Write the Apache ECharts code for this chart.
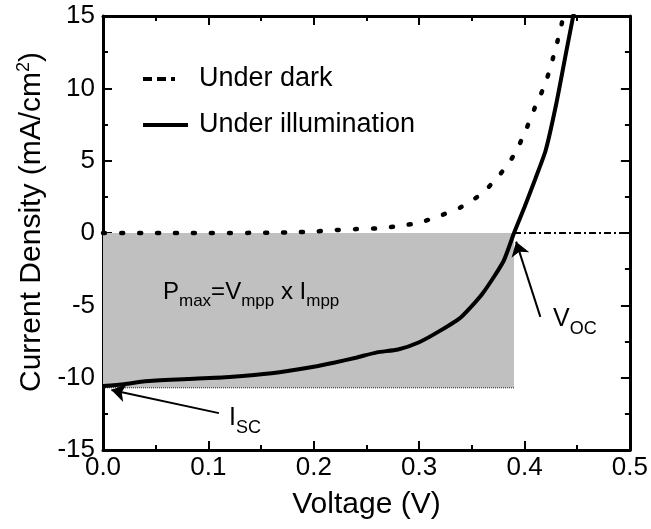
<!DOCTYPE html>
<html>
<head>
<meta charset="utf-8">
<script src="https://cdn.jsdelivr.net/npm/echarts@6/dist/echarts.min.js"></script>
<style>
  html, body { margin: 0; padding: 0; background: #fff; }
  #chart { width: 651px; height: 529px; }
</style>
</head>
<body>
<div id="chart"></div>
<script>
// J–V characteristics of the cell: voltage (V) vs current density (mA/cm²)
const darkVoltage = [0, 0.02, 0.04, 0.06, 0.08, 0.10, 0.12, 0.14, 0.16, 0.18, 0.20, 0.22, 0.24, 0.26, 0.28, 0.30, 0.32, 0.34, 0.36, 0.37, 0.38, 0.39, 0.40, 0.41, 0.42, 0.43, 0.437];
const darkCurrent = [0, 0, 0, 0, 0, 0, 0, 0.01, 0.02, 0.05, 0.10, 0.20, 0.27, 0.32, 0.48, 0.72, 1.20, 1.80, 2.76, 3.50, 4.35, 5.40, 6.90, 8.70, 10.40, 12.90, 15.0];

const lightVoltage = [0, 0.02, 0.04, 0.08, 0.12, 0.16, 0.20, 0.22, 0.24, 0.26, 0.28, 0.30, 0.32, 0.34, 0.36, 0.38, 0.39, 0.40, 0.41, 0.42, 0.43, 0.44, 0.447];
const lightCurrent = [-10.57, -10.45, -10.25, -10.10, -9.95, -9.70, -9.25, -8.95, -8.62, -8.25, -8.05, -7.55, -6.75, -5.80, -4.20, -1.95, 0, 1.8, 3.7, 5.7, 8.9, 12.7, 15.3];

// Key operating points
const vOc = 0.39;        // open-circuit voltage
const jSc = -10.7;       // bottom of the shaded power rectangle
const vEnd = 0.5;

const xTicks = [0.0, 0.1, 0.2, 0.3, 0.4, 0.5];
const yTicks = [-15, -10, -5, 0, 5, 10, 15];

const legendNames = ['Under dark', 'Under illumination'];

const zip = (a, b) => a.map((v, i) => [v, b[i]]);

const FONT = "'Liberation Sans', Arial, Helvetica, sans-serif";

const chart = echarts.init(document.getElementById('chart'), null, { renderer: 'canvas' });

const axisCommon = {
  axisLine: { show: true, onZero: false, lineStyle: { color: '#000', width: 3 } },
  axisTick: { show: true, inside: true, length: 9, lineStyle: { color: '#000', width: 2 } },
  minorTick: { show: true, splitNumber: 2, length: 5, lineStyle: { color: '#000', width: 2 } },
  splitLine: { show: false }
};

function subText(main, sub, size, subSize) {
  return {
    text: '{m|' + main + '}{s|' + sub + '}',
    fill: '#000',
    rich: {
      m: { fontSize: size, fontFamily: FONT, fill: '#000', lineHeight: 30, verticalAlign: 'bottom' },
      s: { fontSize: subSize, fontFamily: FONT, fill: '#000', lineHeight: 30, verticalAlign: 'bottom', padding: [0, 0, -6, 0] }
    }
  };
}

const option = {
  animation: false,
  backgroundColor: '#fff',
  textStyle: { fontFamily: FONT },
  grid: { left: 103, right: 18, top: 16, bottom: 79 },
  xAxis: [
    Object.assign({}, axisCommon, {
      type: 'value', min: xTicks[0], max: xTicks[xTicks.length - 1], interval: 0.1,
      position: 'bottom',
      axisLabel: { fontSize: 26, color: '#000', margin: 5, formatter: v => v.toFixed(1), fontFamily: FONT },
      name: 'Voltage (V)', nameLocation: 'middle', nameGap: 40,
      nameTextStyle: { fontSize: 30, color: '#000', fontFamily: FONT }
    }),
    Object.assign({}, axisCommon, {
      type: 'value', min: xTicks[0], max: xTicks[xTicks.length - 1], interval: 0.1,
      position: 'top', axisLabel: { show: false }
    })
  ],
  yAxis: [
    Object.assign({}, axisCommon, {
      type: 'value', min: yTicks[0], max: yTicks[yTicks.length - 1], interval: 5,
      position: 'left',
      axisLabel: { fontSize: 26, color: '#000', margin: 8, fontFamily: FONT },
      name: 'Current Density (mA/cm{sup|2})', nameLocation: 'middle', nameGap: 54, nameRotate: 90,
      nameTextStyle: {
        fontSize: 30, color: '#000', fontFamily: FONT, padding: [0, 0, 0, 22],
        rich: { sup: { fontSize: 18, color: '#000', fontFamily: FONT, padding: [0, 0, 15, 0] } }
      }
    }),
    Object.assign({}, axisCommon, {
      type: 'value', min: yTicks[0], max: yTicks[yTicks.length - 1], interval: 5,
      position: 'right', axisLabel: { show: false }
    })
  ],
  series: [
    {
      // shaded maximum-power rectangle
      type: 'line', name: 'area', data: [], silent: true,
      markArea: {
        silent: true,
        itemStyle: { color: '#c0c0c0' },
        data: [[{ coord: [0, 0] }, { coord: [vOc, jSc] }]]
      },
      z: 1
    },
    {
      // dotted lower edge of the rectangle
      type: 'line', name: 'edge', data: [[0, jSc], [vOc, jSc]], symbol: 'none', silent: true,
      lineStyle: { color: '#222', width: 1, type: [1, 1] }, z: 2
    },
    {
      // dash-dot continuation along J = 0
      type: 'line', name: 'zero', data: [[vOc, 0], [vEnd, 0]], symbol: 'none', silent: true,
      lineStyle: { color: '#000', width: 2, type: [7, 3, 2, 3] }, z: 2
    },
    {
      type: 'line', name: legendNames[0], data: zip(darkVoltage, darkCurrent),
      symbol: 'none', smooth: 0.3, clip: true,
      lineStyle: { color: '#000', width: 4.5, type: [2, 16], cap: 'round' }, z: 3
    },
    {
      type: 'line', name: legendNames[1], data: zip(lightVoltage, lightCurrent),
      symbol: 'none', smooth: 0.2, clip: true,
      lineStyle: { color: '#000', width: 4 }, z: 4
    },
    {
      // annotation arrows for Voc and Isc
      type: 'lines', coordinateSystem: 'cartesian2d', silent: true,
      symbol: ['none', 'arrow'], symbolSize: [10, 14],
      lineStyle: { color: '#000', width: 2, opacity: 1, curveness: 0 },
      data: [
        { coords: [[0.415, -5.8], [0.392, -0.6]] },
        { coords: [[0.110, -12.45], [0.008, -10.85]] }
      ],
      z: 5
    }
  ],
  graphic: [
    // legend
    {
      type: 'line', z: 10,
      shape: { x1: 143, y1: 79, x2: 176, y2: 79 },
      style: { stroke: '#000', lineWidth: 4, lineDash: [9, 5, 9, 5, 4, 40] }
    },
    {
      type: 'text', left: 199, top: 65, z: 10,
      style: { text: legendNames[0], fontSize: 27, fontFamily: FONT, fill: '#000' }
    },
    {
      type: 'line', z: 10,
      shape: { x1: 143, y1: 125, x2: 188, y2: 125 },
      style: { stroke: '#000', lineWidth: 4 }
    },
    {
      type: 'text', left: 199, top: 111, z: 10,
      style: { text: legendNames[1], fontSize: 27, fontFamily: FONT, fill: '#000' }
    },
    // annotations
    { type: 'text', left: 163, top: 280, z: 10, style: {
        text: '{m|P}{s|max}{m|=V}{s|mpp}{m| x I}{s|mpp}', fill: '#000',
        rich: {
          m: { fontSize: 24, fontFamily: FONT, fill: '#000', lineHeight: 30, verticalAlign: 'bottom' },
          s: { fontSize: 17, fontFamily: FONT, fill: '#000', lineHeight: 30, verticalAlign: 'bottom', padding: [0, 0, -6, 0] }
        } } },
    { type: 'text', left: 553, top: 307, z: 10, style: subText('V', 'OC', 25, 18) },
    { type: 'text', left: 229, top: 406, z: 10, style: subText('I', 'SC', 25, 18) }
  ]
};

chart.setOption(option);
</script>
</body>
</html>
